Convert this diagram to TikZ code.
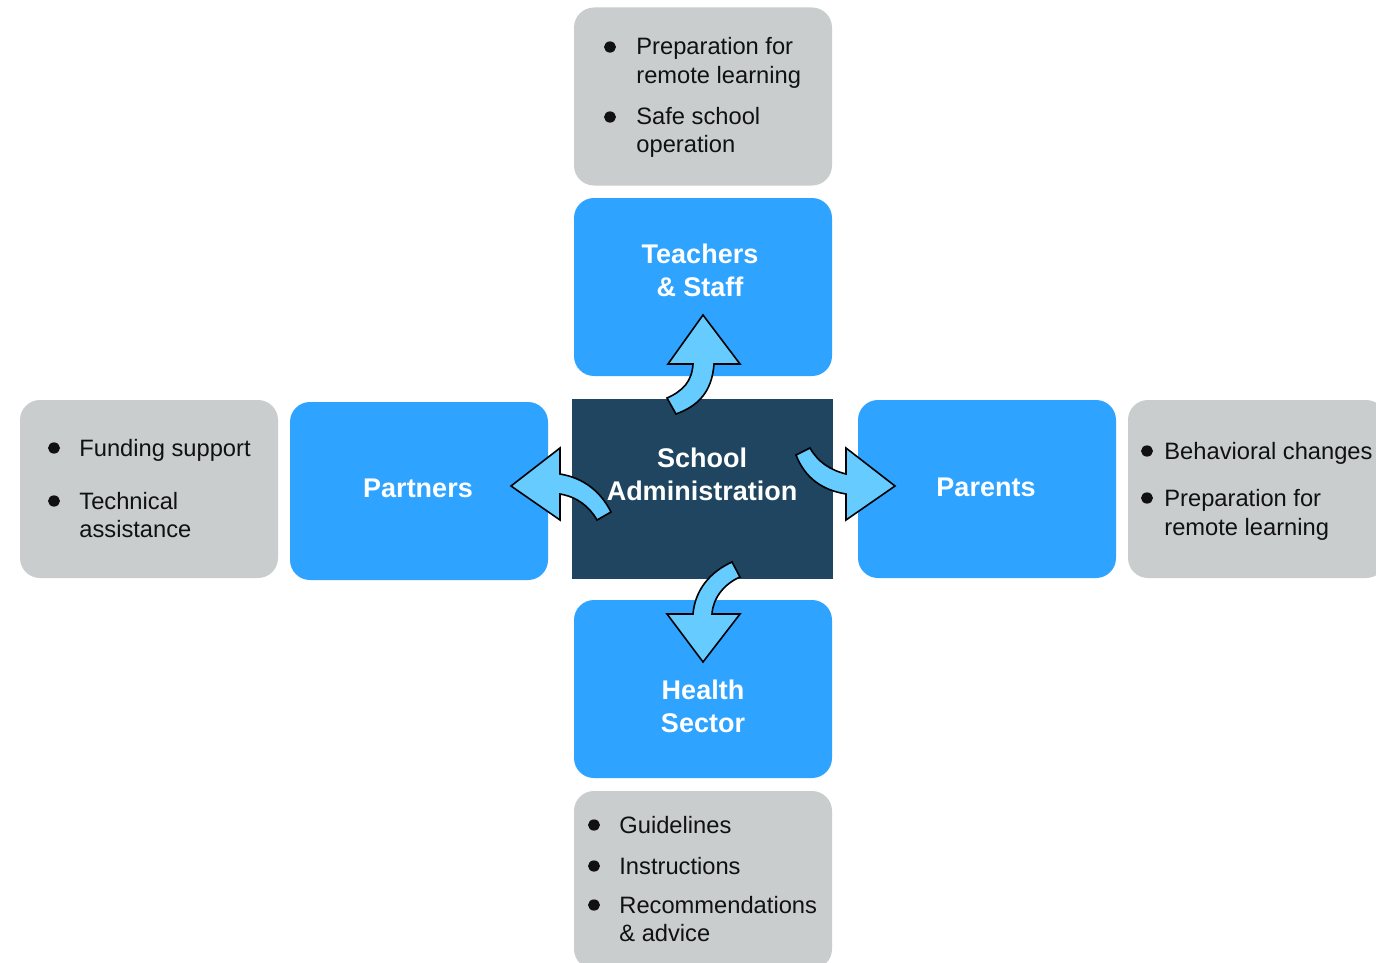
\documentclass[tikz,border=0pt]{standalone}
\usepackage{fontspec}
\setmainfont{Liberation Sans}
\definecolor{boxblue}{RGB}{46,163,255}
\definecolor{darkbox}{RGB}{31,69,96}
\definecolor{infogray}{RGB}{201,205,206}
\definecolor{arrowblue}{RGB}{102,204,255}
\definecolor{itemtext}{RGB}{17,17,17}
\begin{document}
\begin{tikzpicture}[x=0.5pt,y=-0.5pt,
  basebox/.style={rectangle, inner sep=0pt, draw=none, minimum width=129pt, minimum height=89pt},
  bluebox/.style={basebox, fill=boxblue, rounded corners=10pt},
  graybox/.style={basebox, fill=infogray, rounded corners=10pt},
  adminbox/.style={basebox, fill=darkbox, minimum width=130.5pt, minimum height=90pt},
  title/.style={text=white, font=\fontsize{13.5}{16.5}\selectfont\bfseries, align=center, inner sep=0pt},
  item/.style={anchor=base west, inner sep=0pt, font=\fontsize{11.85}{14.5}\selectfont, text=itemtext},
  bulletdot/.style={fill=itemtext},
  blockarrow/.style={fill=arrowblue, draw=black, line width=0.8pt, line join=miter}
]
\useasboundingbox (0,0) rectangle (1376,963);
\clip (0,0) rectangle (1376,963);
\fill[white] (0,0) rectangle (1376,963);

% boxes
\node[graybox] (topinfo) at (703,96.5) {};
\node[bluebox] (teachers) at (703,287) {};
\node[adminbox] (admin) at (702.5,489) {};
\node[bluebox] (partners) at (419,491) {};
\node[graybox] (leftinfo) at (149,489) {};
\node[bluebox] (parents) at (987,489) {};
\node[graybox] (rightinfo) at (1257,489) {};
\node[bluebox] (health) at (703,689) {};
\node[graybox] (bottominfo) at (703,880) {};

% titles
\node[title] (teacherstxt) at (700,270) {Teachers\\\& Staff};
\node[title] (admintxt) at (702,474) {School\\Administration};
\node[title] (partnerstxt) at (418,488) {Partners};
\node[title] (parentstxt) at (986,487) {Parents};
\node[title] (healthtxt) at (703,706) {Health\\Sector};

% top info
\fill[bulletdot] (610,47) ellipse (3pt and 2.8pt);
\fill[bulletdot] (610,117) ellipse (3pt and 2.8pt);
\node[item] (t1) at (636,55) {Preparation for};
\node[item] (t2) at (636,84) {remote learning};
\node[item] (t3) at (636,125) {Safe school};
\node[item] (t4) at (636,153) {operation};

% left info
\fill[bulletdot] (54,448) ellipse (3pt and 2.8pt);
\fill[bulletdot] (54,501) ellipse (3pt and 2.8pt);
\node[item] (l1) at (79,456) {Funding support};
\node[item] (l2) at (79,509) {Technical};
\node[item] (l3) at (79,537) {assistance};

% right info
\fill[bulletdot] (1147,451) ellipse (3pt and 2.8pt);
\fill[bulletdot] (1147,498) ellipse (3pt and 2.8pt);
\node[item] (r1) at (1164,459) {Behavioral changes};
\node[item] (r2) at (1164,506) {Preparation for};
\node[item] (r3) at (1164,535) {remote learning};

% bottom info
\fill[bulletdot] (594,825) ellipse (3pt and 2.8pt);
\fill[bulletdot] (594,866) ellipse (3pt and 2.8pt);
\fill[bulletdot] (594,905) ellipse (3pt and 2.8pt);
\node[item] (b1) at (619,833) {Guidelines};
\node[item] (b2) at (619,874) {Instructions};
\node[item] (b3) at (619,913) {Recommendations};
\node[item] (b4) at (619,941) {\& advice};

% block arrows
% up to teachers
\draw[blockarrow] (703,315) -- (740,364) -- (714,364)
  .. controls (712,392) and (698,406) .. (676,414) -- (667,398)
  .. controls (683,391) and (692,381) .. (693,364) -- (668,364) -- cycle;
% right to parents
\draw[blockarrow] (895,486) -- (846,520) -- (846,494)
  .. controls (822,490) and (805,478) .. (796,455) -- (810,448)
  .. controls (818,462) and (830,470) .. (846,474) -- (846,448) -- cycle;
% left to partners
\draw[blockarrow] (511,486) -- (560,448) -- (560,474)
  .. controls (584,478) and (601,492) .. (611,512) -- (597,520)
  .. controls (589,506) and (577,497) .. (560,494) -- (560,520) -- cycle;
% down to health
\draw[blockarrow] (703,662) -- (667,614) -- (693,614)
  .. controls (695,590) and (710,572) .. (732,562) -- (740,577)
  .. controls (724,584) and (713,598) .. (712,614) -- (740,614) -- cycle;
\end{tikzpicture}
\end{document}
